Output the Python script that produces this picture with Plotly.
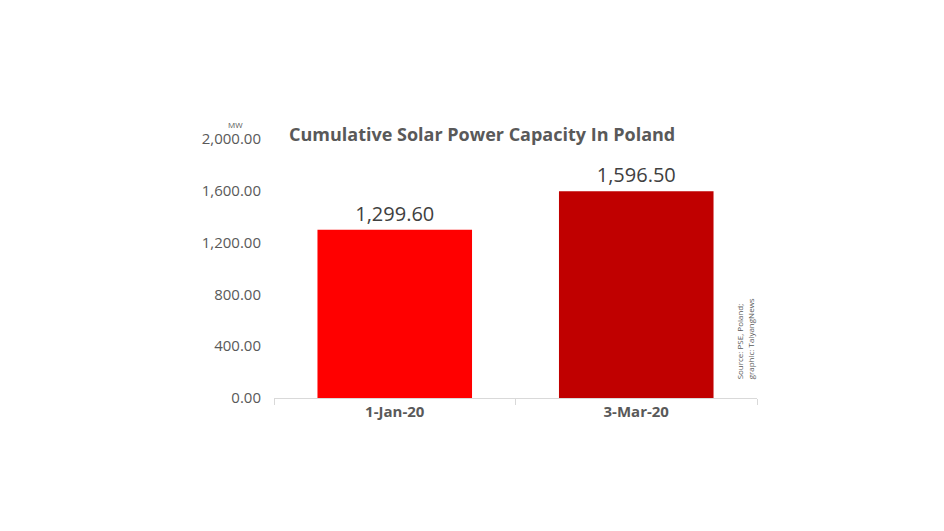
import plotly.graph_objects as go

dates = ["1-Jan-20", "3-Mar-20"]
capacity_mw = [1299.60, 1596.50]
bar_colors = ["#FF0000", "#C00000"]
y_ticks = [0, 400, 800, 1200, 1600, 2000]

fig = go.Figure(go.Bar(
    x=dates, y=capacity_mw,
    marker=dict(color=bar_colors, line=dict(width=0)),
    width=0.64,
    text=[f"{v:,.2f}" for v in capacity_mw],
    textposition="outside",
    textfont=dict(size=20, color="#404040", family="Open Sans"),
    cliponaxis=False,
))

fig.update_layout(
    width=944, height=531,
    paper_bgcolor="white", plot_bgcolor="white",
    margin=dict(l=266, r=195, t=131, b=141),
    showlegend=False,
    font=dict(family="Open Sans", color="#595959"),
    annotations=[
        dict(text="<b>Cumulative Solar Power Capacity In Poland</b>",
             xref="paper", yref="paper", x=0.43, y=1.02, xanchor="center", yanchor="middle",
             showarrow=False, font=dict(size=18, color="#595959")),
        dict(text="MW", xref="paper", yref="paper", x=-0.08, y=1.055,
             xanchor="center", yanchor="middle", showarrow=False,
             font=dict(size=8, color="#595959")),
        dict(text="Source: PSE, Poland;<br>graphic: TaiyangNews",
             xref="paper", yref="paper", x=0.975, y=0.23, xanchor="center", yanchor="middle",
             textangle=-90, showarrow=False, align="left",
             font=dict(size=8, color="#595959")),
    ],
)
fig.update_yaxes(range=[0, 2000], tickvals=y_ticks, tickformat=",.2f",
                 showgrid=False, zeroline=False, showline=False,
                 tickfont=dict(size=15, color="#595959", family="Open Sans"),
                 ticklabelstandoff=12)
fig.update_xaxes(showline=True, linecolor="#D9D9D9", linewidth=1,
                 ticks="outside", tickson="boundaries", tickcolor="#D9D9D9", ticklen=6,
                 tickfont=dict(size=15, color="#595959", family="Open Sans"),
                 tickprefix="<b>", ticksuffix="</b>")

fig.write_html("out.html")
